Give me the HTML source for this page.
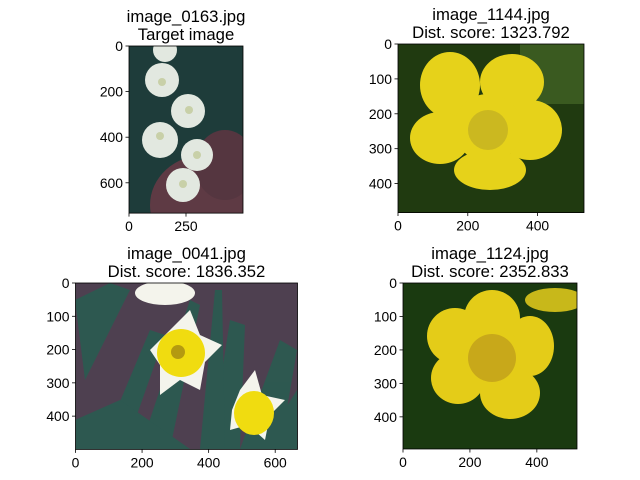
<!DOCTYPE html>
<html><head><meta charset="utf-8">
<style>
html,body{margin:0;padding:0;background:#fff;}
svg{display:block;font-family:"Liberation Sans","DejaVu Sans",sans-serif;}
</style></head>
<body>
<svg id="fig" width="640" height="480" viewBox="0 0 640 480" xmlns="http://www.w3.org/2000/svg">
<defs>
<clipPath id="c1"><rect x="129" y="46" width="114" height="167"/></clipPath>
<clipPath id="c2"><rect x="398" y="44" width="186" height="169"/></clipPath>
<clipPath id="c3"><rect x="75.5" y="283" width="222" height="166"/></clipPath>
<clipPath id="c4"><rect x="403" y="283" width="174" height="166"/></clipPath>
</defs>

<!-- panel 1 image -->
<g clip-path="url(#c1)">
<rect x="129" y="46" width="114" height="167" fill="#1e3c3a"/>
<ellipse cx="205" cy="205" rx="55" ry="50" fill="#5e3a44"/>
<ellipse cx="225" cy="165" rx="30" ry="35" fill="#553640"/>
<g fill="#e2e8e0">
<circle cx="165" cy="50" r="12"/>
<circle cx="162" cy="80" r="17"/>
<circle cx="188" cy="111" r="17"/>
<circle cx="160" cy="140" r="18"/>
<circle cx="197" cy="155" r="16"/>
<circle cx="183" cy="185" r="17"/>
</g>
<g fill="#c8d0a8"><circle cx="162" cy="82" r="4"/><circle cx="189" cy="110" r="4"/><circle cx="160" cy="136" r="4"/><circle cx="197" cy="155" r="4"/><circle cx="183" cy="184" r="4"/></g>
</g>

<!-- panel 2 image -->
<g clip-path="url(#c2)">
<rect x="398" y="44" width="186" height="169" fill="#203a10"/>
<rect x="520" y="44" width="64" height="60" fill="#3a5a20"/>
<g fill="#e6d21a">
<ellipse cx="450" cy="85" rx="30" ry="33"/>
<ellipse cx="512" cy="82" rx="32" ry="28"/>
<ellipse cx="530" cy="130" rx="32" ry="30"/>
<ellipse cx="440" cy="138" rx="30" ry="26"/>
<ellipse cx="490" cy="170" rx="36" ry="20"/>
<circle cx="488" cy="128" r="34"/>
</g>
<circle cx="488" cy="130" r="20" fill="#cbb820"/>
</g>

<!-- panel 3 image -->
<g clip-path="url(#c3)">
<rect x="75.5" y="283" width="222" height="166" fill="#4e4050"/>
<g fill="#2c5a50" opacity="0.95">
<polygon points="75,300 110,283 130,290 85,380"/>
<polygon points="100,449 150,330 165,335 125,449"/>
<polygon points="140,449 190,300 200,305 170,449"/>
<polygon points="210,449 230,320 245,325 240,449"/>
<polygon points="240,449 280,340 297,350 280,449"/>
<polygon points="75,420 120,400 190,449 75,449"/>
<polygon points="200,449 215,290 222,290 225,449"/>
<polygon points="260,449 297,390 297,449"/>
</g>
<g fill="#f4f4ec">
<polygon points="150,350 175,325 190,310 200,335 222,345 205,362 200,390 180,380 160,395 160,365"/>
<polygon points="232,410 240,390 255,370 262,395 285,400 270,415 265,440 248,425 230,430"/>
<ellipse cx="165" cy="293" rx="30" ry="12"/>
</g>
<g fill="#f0dc10">
<circle cx="181" cy="353" r="24"/>
<ellipse cx="254" cy="413" rx="20" ry="22"/>
</g>
<circle cx="178" cy="352" r="7" fill="#b49a10"/>
</g>

<!-- panel 4 image -->
<g clip-path="url(#c4)">
<rect x="403" y="283" width="174" height="166" fill="#1a3a10"/>
<ellipse cx="555" cy="300" rx="30" ry="12" fill="#c8b81a"/>
<g fill="#e4cc18">
<ellipse cx="492" cy="318" rx="28" ry="28"/>
<ellipse cx="455" cy="336" rx="28" ry="28"/>
<ellipse cx="530" cy="346" rx="24" ry="30"/>
<ellipse cx="458" cy="378" rx="27" ry="26"/>
<ellipse cx="510" cy="393" rx="30" ry="26"/>
<circle cx="492" cy="356" r="30"/>
</g>
<circle cx="492" cy="358" r="24" fill="#c8a81a"/>
</g>

<g id="axes"></g>
</svg>
<script>
// axis ranges (data units) and tick labels per panel
const p1XTicks = [0, 250];
const p1YTicks = [0, 200, 400, 600];
const p2XTicks = [0, 200, 400];
const p2YTicks = [0, 100, 200, 300, 400];
const p3XTicks = [0, 200, 400, 600];
const p3YTicks = [0, 100, 200, 300, 400];
const p4XTicks = [0, 200, 400];
const p4YTicks = [0, 100, 200, 300, 400];
const imgWidths = [500, 533, 667, 520];
const imgHeights = [733, 483, 500, 496];
const titles1 = ["image_0163.jpg", "image_1144.jpg", "image_0041.jpg", "image_1124.jpg"];
const titles2 = ["Target image", "Dist. score: 1323.792", "Dist. score: 1836.352", "Dist. score: 2352.833"];

const boxes = [
  {x:129, y:46, w:114},
  {x:398, y:44, w:186},
  {x:75.5, y:283, w:222},
  {x:403, y:283, w:174}
];
const xt = [p1XTicks, p2XTicks, p3XTicks, p4XTicks];
const yt = [p1YTicks, p2YTicks, p3YTicks, p4YTicks];
const NS = "http://www.w3.org/2000/svg";
const g = document.getElementById("axes");
function mk(tag, attrs, parent){const e=document.createElementNS(NS,tag);for(const k in attrs)e.setAttribute(k,attrs[k]);parent.appendChild(e);return e;}

for (let i=0;i<4;i++){
  const b = boxes[i];
  const s = b.w / imgWidths[i];
  const h = imgHeights[i]*s;
  const sx = v => b.x + v*s;
  const sy = v => b.y + v*s;
  const ax = mk("g",{},g);
  
  
  const fr = mk("rect",{x:b.x,y:b.y,width:b.w,height:h,fill:"none",stroke:"#000","stroke-width":0.8},ax);
  
  
  const cx = b.x + b.w/2;
  const t1 = mk("text",{x:cx,y:b.y-24,"text-anchor":"middle","font-size":"16.7"},ax);
  t1.textContent = titles1[i];
  
  
  const t2 = mk("text",{x:cx,y:b.y-6,"text-anchor":"middle","font-size":"16.7"},ax);
  t2.textContent = titles2[i];
  
  
  xt[i].forEach(v=>{
    const x = sx(v);
    mk("line",{x1:x,y1:b.y+h,x2:x,y2:b.y+h+3.5,stroke:"#000","stroke-width":0.8},ax);
    const t = mk("text",{x:x,y:b.y+h+18,"text-anchor":"middle","font-size":"13.9"},ax);
    t.textContent = v;
    
    
  });
  yt[i].forEach(v=>{
    const y = sy(v);
    mk("line",{x1:b.x-3.5,y1:y,x2:b.x,y2:y,stroke:"#000","stroke-width":0.8},ax);
    const t = mk("text",{x:b.x-6,y:y+5,"text-anchor":"end","font-size":"13.9"},ax);
    t.textContent = v;
    
    
  });
}
</script>
</body></html>
